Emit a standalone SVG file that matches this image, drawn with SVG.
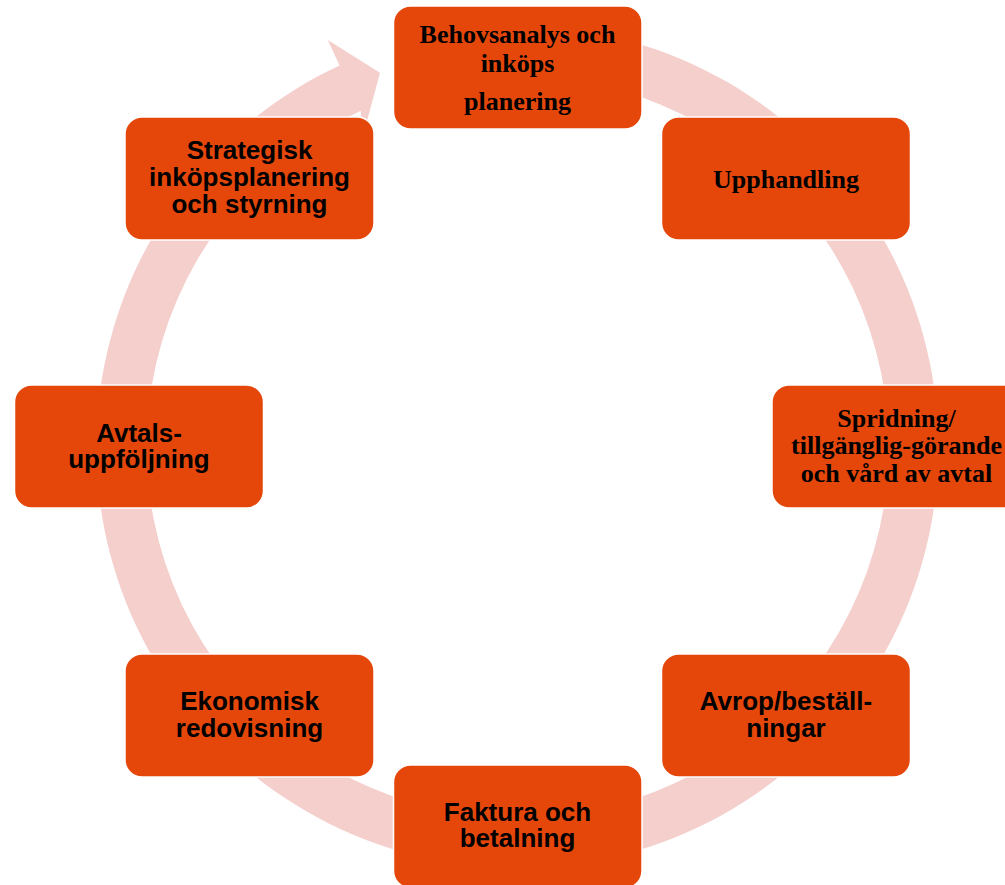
<svg xmlns="http://www.w3.org/2000/svg" width="1005" height="885" viewBox="0 0 1005 885">
<style>
.box{fill:#E5470B;stroke:#FFFFFF;stroke-width:1.5}
.ring{fill:#F4CFCC;stroke:none}
.serif{font-family:"Liberation Serif","Times New Roman",serif;font-weight:bold;font-size:26px;fill:#000;text-anchor:middle}
.sans{font-family:"Liberation Sans",Arial,sans-serif;font-weight:bold;font-size:26px;fill:#000;text-anchor:middle}
</style>
<rect x="0" y="0" width="1005" height="885" fill="#FFFFFF"/>
<g id="connectors">
<path class="ring" d="M 532.2,26.3 A 421 421 0 1 1 339.6,65.4 L 327.8,40.1 L 380,72.7 L 363,136 L 360.7,110.8 A 371 371 0 1 0 530.5,76.2 Z"/>
</g>
<g id="node-behovsanalys">
<rect class="box" x="393.5" y="6" width="248.5" height="123" rx="17"/>
<text class="serif" x="517.5" y="42.7">Behovsanalys och</text>
<text class="serif" x="517.5" y="71.7">inköps</text>
<text class="serif" x="517.5" y="109.5">planering</text>
</g>
<g id="node-upphandling">
<rect class="box" x="661.5" y="117" width="249" height="123" rx="17"/>
<text class="serif" x="786" y="188.3">Upphandling</text>
</g>
<g id="node-spridning">
<rect class="box" x="772" y="385" width="249" height="123" rx="17"/>
<text class="serif" x="896.5" y="426.7">Spridning/</text>
<text class="serif" x="896.5" y="454">tillgänglig-görande</text>
<text class="serif" x="896.5" y="481.7">och vård av avtal</text>
</g>
<g id="node-avrop">
<rect class="box" x="661.5" y="654" width="249" height="123" rx="17"/>
<text class="sans" x="786" y="710">Avrop/beställ-</text>
<text class="sans" x="786" y="737">ningar</text>
</g>
<g id="node-faktura">
<rect class="box" x="393.5" y="765" width="248.5" height="123" rx="17"/>
<text class="sans" x="517.5" y="820.7">Faktura och</text>
<text class="sans" x="517.5" y="847">betalning</text>
</g>
<g id="node-ekonomisk">
<rect class="box" x="125" y="654" width="249" height="123" rx="17"/>
<text class="sans" x="249.5" y="710">Ekonomisk</text>
<text class="sans" x="249.5" y="737">redovisning</text>
</g>
<g id="node-avtalsuppfoljning">
<rect class="box" x="14.5" y="385" width="249" height="123" rx="17"/>
<text class="sans" x="139" y="441.7">Avtals-</text>
<text class="sans" x="139" y="468">uppföljning</text>
</g>
<g id="node-strategisk">
<rect class="box" x="125" y="117" width="249" height="123" rx="17"/>
<text class="sans" x="249.5" y="159.3">Strategisk</text>
<text class="sans" x="249.5" y="186.3">inköpsplanering</text>
<text class="sans" x="249.5" y="213.3">och styrning</text>
</g>
</svg>
